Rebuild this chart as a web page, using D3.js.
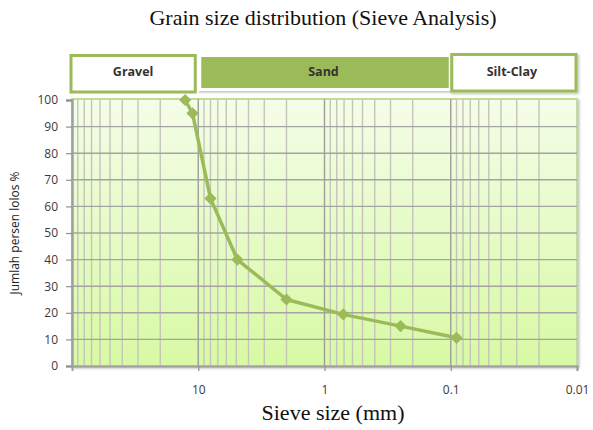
<!DOCTYPE html>
<html>
<head>
<meta charset="utf-8">
<script src="https://cdn.jsdelivr.net/npm/d3@7"></script>
<style>
  body { margin: 0; background: #fff; }
  svg { display: block; }
</style>
</head>
<body>
<svg id="chart" width="593" height="430"></svg>
<script>
// sieve analysis data
const sieveSize = [12.7, 11.1, 8.0, 4.9, 2.0, 0.71, 0.25, 0.09]
const percentPassing = [100, 95, 63, 40, 25, 19.4, 15, 10.6]
const xTicks = [10, 1, 0.1, 0.01]
const yTicks = [0, 10, 20, 30, 40, 50, 60, 70, 80, 90, 100]
const zoneNames = ["Gravel", "Sand", "Silt-Clay"]
const zoneFrom = [100, 10, 0.1]
const zoneTo = [10, 0.1, 0.01]

const margins = {left: 72, right: 16, top: 99, bottom: 64}
const width = 593, height = 430
const green = "#9bbb59"
const sans = "Open Sans, Lato, sans-serif"

const svg = d3.select("#chart")
const defs = svg.append("defs")

const grad = defs.append("linearGradient")
  .attr("id", "bg").attr("x1", 0).attr("y1", 0).attr("x2", 0).attr("y2", 1)
grad.append("stop").attr("offset", "0%").attr("stop-color", "#f4fde8")
grad.append("stop").attr("offset", "100%").attr("stop-color", "#d8f9a4")

const shadow = defs.append("filter").attr("id", "shadow")
  .attr("x", "-5%").attr("y", "-20%").attr("width", "115%").attr("height", "150%")
shadow.append("feDropShadow")
  .attr("dx", 1.5).attr("dy", 1.5).attr("stdDeviation", 1.2)
  .attr("flood-color", "#000").attr("flood-opacity", 0.25)

const x = d3.scaleLog().domain([100, 0.01]).range([margins.left, width - margins.right])
const y = d3.scaleLinear().domain([0, 100]).range([height - margins.bottom, margins.top + 1])

const x0 = x.range()[0], x1 = x.range()[1]
const yTop = margins.top, yBot = y(0)

// title
svg.append("text")
  .attr("x", 323).attr("y", 25)
  .attr("text-anchor", "middle")
  .attr("font-family", "Liberation Serif, serif")
  .attr("font-size", 22)
  .attr("fill", "#111")
  .text("Grain size distribution (Sieve Analysis)")

// zone header boxes
const zones = zoneNames.map((name, i) => ({name, from: zoneFrom[i], to: zoneTo[i]}))
const zg = svg.append("g").attr("class", "zones")
zones.forEach((z, i) => {
  const zx0 = x(z.from), zx1 = x(z.to)
  if (i === 1) {
    zg.append("rect")
      .attr("x", zx0 - 1).attr("y", 54)
      .attr("width", zx1 - zx0 + 1).attr("height", 37)
      .attr("fill", "#fff")
      .attr("filter", "url(#shadow)")
    zg.append("rect")
      .attr("x", zx0 + 3).attr("y", 57)
      .attr("width", zx1 - zx0 - 5).attr("height", 31)
      .attr("fill", green)
  } else {
    zg.append("rect")
      .attr("x", (i === 0 ? zx0 - 1 : zx0 + 1)).attr("y", i === 0 ? 55.5 : 54.5)
      .attr("width", zx1 - zx0 - 2).attr("height", 36.5)
      .attr("fill", "#fff")
      .attr("stroke", green).attr("stroke-width", 3)
      .attr("filter", i === 2 ? "url(#shadow)" : null)
  }
  zg.append("text")
    .attr("x", (zx0 + zx1) / 2 + (i === 1 ? -1 : -2)).attr("y", 76)
    .attr("text-anchor", "middle")
    .attr("font-family", sans)
    .attr("font-weight", "bold")
    .attr("font-size", 12.5)
    .attr("fill", "#333")
    .text(z.name)
})

// plot area
svg.append("rect")
  .attr("x", x0).attr("y", yTop)
  .attr("width", x1 - x0).attr("height", yBot - yTop)
  .attr("fill", "url(#bg)")
  .attr("stroke", "#c3dc96").attr("stroke-width", 2)
  .attr("filter", "url(#shadow)")

// minor vertical grid (log)
const minor = []
for (let e = -2; e < 2; e++) {
  for (let m = 2; m <= 9; m++) minor.push(m * Math.pow(10, e))
}
svg.append("g").selectAll("line")
  .data(minor)
  .join("line")
  .attr("x1", d => x(d)).attr("x2", d => x(d))
  .attr("y1", yTop).attr("y2", yBot)
  .attr("stroke", "#c4c4bc").attr("stroke-width", 1.4)

// major vertical grid
svg.append("g").selectAll("line")
  .data(xTicks.slice(0, 3))
  .join("line")
  .attr("x1", d => x(d)).attr("x2", d => x(d))
  .attr("y1", yTop).attr("y2", yBot)
  .attr("stroke", "#9e9e98").attr("stroke-width", 1.4)

// horizontal grid
svg.append("g").selectAll("line")
  .data(yTicks.slice(1, -1))
  .join("line")
  .attr("x1", x0).attr("x2", x1)
  .attr("y1", d => y(d)).attr("y2", d => y(d))
  .attr("stroke", "#a4a4a0").attr("stroke-width", 1.4)

// axes
const yAxis = svg.append("g")
  .attr("transform", `translate(${x0},0)`)
  .call(d3.axisLeft(y).tickValues(yTicks).tickSize(6).tickPadding(8))
yAxis.select(".domain").attr("stroke", "#a0a0a0").attr("stroke-width", 2.5)
yAxis.selectAll(".tick line").attr("stroke", "#909090").attr("stroke-width", 1.2)
yAxis.selectAll("text")
  .attr("font-family", sans)
  .attr("font-size", 12).attr("fill", "#3a3a3a")

const xAxis = svg.append("g")
  .attr("transform", `translate(0,${yBot})`)
  .call(d3.axisBottom(x).tickValues(xTicks).tickFormat(d3.format("~g")).tickSize(5).tickPadding(14))
xAxis.select(".domain").attr("stroke", "#a0a0a0").attr("stroke-width", 2)
xAxis.selectAll(".tick line").attr("stroke", "#909090").attr("stroke-width", 1.2)
xAxis.selectAll("text")
  .attr("font-family", sans)
  .attr("font-size", 12).attr("fill", "#3a3a3a")

// grading curve
const pts = sieveSize.map((s, i) => ({s, p: percentPassing[i]}))
svg.append("path")
  .datum(pts)
  .attr("fill", "none")
  .attr("stroke", green)
  .attr("stroke-width", 3.5)
  .attr("stroke-linejoin", "round")
  .attr("d", d3.line().x(d => x(d.s)).y(d => y(d.p)))

svg.append("g").selectAll("path")
  .data(pts)
  .join("path")
  .attr("transform", d => `translate(${x(d.s)},${y(d.p)})`)
  .attr("d", d3.symbol(d3.symbolDiamond2, 95))
  .attr("fill", green)

// axis titles
svg.append("text")
  .attr("x", 333).attr("y", 420)
  .attr("text-anchor", "middle")
  .attr("font-family", "Liberation Serif, serif")
  .attr("font-size", 22)
  .attr("fill", "#111")
  .text("Sieve size (mm)")

svg.append("text")
  .attr("transform", "translate(19,233) rotate(-90)")
  .attr("text-anchor", "middle")
  .attr("font-family", sans)
  .attr("font-size", 12)
  .attr("fill", "#222")
  .text("Jumlah persen lolos %")
</script>
</body>
</html>
